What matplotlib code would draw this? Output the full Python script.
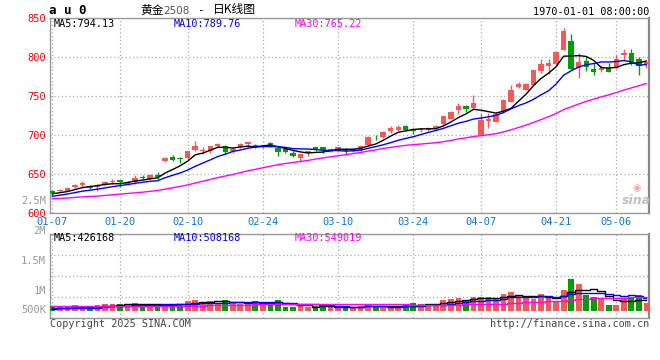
import numpy as np
import pandas as pd
import matplotlib
matplotlib.use("Agg")
import matplotlib.pyplot as plt
from matplotlib.ticker import LinearLocator

plt.rcParams['font.family'] = ['DejaVu Sans Mono', 'Noto Sans CJK SC']

# tick dates (trading-day index -> label)
tick_idx = [0, 9, 18, 28, 38, 48, 57, 67, 75]
tick_lab = ['01-07', '01-20', '02-10', '02-24', '03-10', '03-24', '04-07', '04-21', '05-06']

# daily OHLC
opens = [628.4, 627.6, 628.4, 633.5, 635.3, 634.4, 633.5, 636.1, 640.0, 641.7,
         636.1, 639.5, 646.4, 643.8, 648.9, 666.9, 672.0, 670.7, 670.3, 681.4,
         678.9, 678.9, 685.7, 686.5, 678.9, 684.8, 688.2, 687.4, 684.0, 689.9,
         683.1, 682.3, 676.3, 671.1, 676.3, 684.8, 684.0, 678.8, 680.5, 681.4,
         679.7, 680.5, 687.4, 697.6, 697.6, 704.5, 707.0, 711.3, 707.9, 707.0,
         706.2, 708.7, 713.9, 720.7, 731.8, 737.8, 735.2, 700.2, 718.1, 717.3,
         729.3, 742.9, 761.7, 758.3, 764.3, 782.3, 788.3, 790.8, 809.6, 820.7,
         786.5, 795.1, 784.8, 783.1, 786.5, 785.7, 802.8, 804.5, 796.8, 790.8]
highs = [630.1, 631.0, 633.1, 637.8, 641.2, 635.3, 637.8, 641.2, 644.2, 641.7,
         640.4, 648.1, 648.1, 649.8, 652.4, 671.2, 674.6, 672.0, 679.7, 691.7,
         684.8, 686.5, 690.0, 687.4, 684.0, 690.0, 690.8, 689.1, 686.6, 691.6,
         685.7, 684.0, 680.5, 675.4, 679.7, 684.8, 684.0, 683.1, 684.0, 683.1,
         683.1, 687.4, 699.3, 700.2, 704.5, 711.3, 712.2, 713.0, 709.6, 708.7,
         710.5, 712.2, 725.0, 731.0, 740.4, 738.7, 751.5, 728.4, 728.4, 729.3,
         746.4, 764.3, 767.7, 766.9, 783.1, 797.6, 797.6, 807.0, 837.8, 830.1,
         805.3, 801.9, 791.7, 790.0, 792.5, 802.8, 810.5, 810.5, 799.4, 793.4]
lows = [623.3, 626.7, 627.6, 631.8, 631.8, 631.0, 628.4, 634.4, 637.8, 633.5,
        635.3, 637.8, 643.8, 643.0, 643.8, 665.2, 666.9, 664.3, 669.4, 679.7,
        675.4, 676.3, 684.8, 675.4, 677.1, 683.1, 684.0, 683.1, 683.1, 684.8,
        673.7, 676.3, 672.0, 666.0, 673.7, 679.7, 677.1, 678.0, 679.7, 675.4,
        678.8, 679.7, 686.5, 694.2, 695.9, 702.8, 705.3, 704.5, 701.9, 703.6,
        704.5, 707.9, 711.3, 719.9, 726.7, 730.1, 733.5, 700.2, 709.6, 716.4,
        728.4, 742.1, 760.0, 757.5, 763.5, 779.7, 778.0, 789.9, 808.8, 783.1,
        773.7, 782.3, 776.3, 780.6, 780.6, 784.8, 795.9, 789.9, 776.3, 785.7]
closes = [625.9, 629.3, 632.3, 636.5, 639.1, 631.8, 636.1, 639.5, 641.2, 639.5,
          639.5, 645.1, 645.5, 648.9, 646.4, 670.3, 667.7, 669.4, 678.9, 686.5,
          681.4, 685.7, 689.1, 678.0, 682.3, 688.2, 690.8, 684.0, 685.7, 686.5,
          678.8, 678.0, 672.8, 675.4, 679.7, 682.3, 680.5, 682.3, 684.0, 679.7,
          682.3, 686.5, 696.8, 696.8, 703.6, 709.6, 710.5, 706.2, 705.3, 707.9,
          709.6, 711.3, 724.1, 730.1, 736.9, 732.7, 740.4, 719.0, 720.7, 727.5,
          745.5, 758.3, 765.2, 765.2, 783.1, 790.8, 792.5, 806.2, 832.7, 784.0,
          793.4, 787.4, 780.6, 786.5, 781.4, 797.6, 804.5, 790.8, 788.3, 793.4]
# closes before 01-07 (only feed the moving averages)
prior_close = [617, 614, 614, 616, 618, 620, 617, 615, 613, 616,
               619, 621, 618, 615, 614, 617, 620, 618, 616, 613,
               616, 617, 619, 620, 620, 622, 625, 624, 626]

# volume (thousand lots)
volumes = [176, 134, 134, 219, 110, 134, 219, 275, 275, 275,
           275, 317, 190, 275, 275, 190, 275, 275, 402, 444,
           360, 402, 303, 444, 331, 275, 303, 402, 331, 275,
           444, 134, 134, 219, 162, 190, 190, 134, 134, 134,
           162, 190, 233, 190, 162, 162, 134, 275, 317, 275,
           275, 275, 444, 486, 529, 444, 557, 557, 557, 529,
           698, 783, 613, 515, 486, 698, 613, 402, 867, 1332,
           1121, 656, 557, 472, 233, 233, 472, 543, 642, 331]
prior_vol = [240, 210, 230, 250, 220, 200, 230, 240, 210, 220,
             230, 250, 240, 220, 210, 230, 220, 210, 240, 220,
             190, 170, 160, 150, 130, 60, 50, 45, 49]

RED = '#f65858'
GREEN = '#009f00'
GRID = '#aaaaaa'

n = len(closes)
x = np.arange(n)
o = np.array(opens); c = np.array(closes)
h = np.array(highs); l = np.array(lows)
vol = np.array(volumes) * 1000.0
up = c >= o
cols = np.where(up, RED, GREEN)

allc = pd.Series(prior_close + closes)
ma = {k: allc.rolling(k, min_periods=1).mean().values[len(prior_close):] for k in (5, 10, 30)}
allv = pd.Series(prior_vol + volumes) * 1000.0
vma = {k: allv.rolling(k, min_periods=1).mean().values[len(prior_vol):] for k in (5, 10, 30)}

fig = plt.figure(figsize=(6.6, 3.6), dpi=100)
fig.patch.set_facecolor('white')

def px(xp, yp):
    return xp / 660, 1 - yp / 360

ax = fig.add_axes([50 / 660, 1 - 213 / 360, 599 / 660, 195 / 360])
axv = fig.add_axes([50 / 660, 1 - 318 / 360, 599 / 660, 84 / 360])

xlim = (-0.31, 79.35)

# price panel
ax.vlines(x, l, h, colors=cols, lw=1, zorder=3)
body = np.maximum(np.abs(c - o), 1.0)
ax.bar(x, body, bottom=np.minimum(o, c), width=0.72, color=cols, lw=0, zorder=4)
ax.plot(x, ma[5], color='black', lw=1, zorder=5)
ax.plot(x, ma[10], color='#0000ff', lw=1, zorder=5)
ax.plot(x, ma[30], color='#ff00ff', lw=1, zorder=5)
ax.set_xlim(*xlim)
ax.set_ylim(600, 850)
ax.set_yticks([600, 650, 700, 750, 800, 850])
ax.set_xticks(tick_idx)
ax.set_xticklabels(tick_lab)
ax.tick_params(axis='x', length=0, pad=3, labelsize=7.5, labelcolor='#0a78d2')
ax.tick_params(axis='y', length=0, pad=3, labelsize=7.5, labelcolor='#ee0000')
ax.grid(True, color=GRID, ls=(0, (1, 2)), lw=0.9)

# volume panel
axv.bar(x, vol, width=0.76, color=cols, lw=0, zorder=3)
axv.plot(x, vma[5], color='black', lw=1, drawstyle='steps-mid', zorder=4)
axv.plot(x, vma[10], color='#0000ff', lw=1, drawstyle='steps-mid', zorder=4)
axv.plot(x, vma[30], color='#ff00ff', lw=1, drawstyle='steps-mid', zorder=4)
axv.set_xlim(*xlim)
axv.set_ylim(-317e3, 3236e3)
axv.yaxis.set_major_locator(LinearLocator(5))
axv.set_xticks(tick_idx)
axv.set_xticklabels([])
axv.set_yticklabels([])
axv.tick_params(length=0)
axv.grid(True, color=GRID, ls=(0, (1, 2)), lw=0.9)

for a in (ax, axv):
    a.set_axisbelow(True)
    for s in ('left', 'bottom', 'top'):
        a.spines[s].set_color('#999999')
        a.spines[s].set_linewidth(1)
    a.spines['right'].set_color('#888888')
    a.spines['right'].set_linewidth(1.6)

# header
fig.text(*px(49, 10), 'a u 0', fontsize=9, fontweight='bold', va='center', ha='left')
fig.text(*px(140, 10), '黄金', family=['Noto Sans CJK SC'], fontsize=8.5, va='center', ha='left')
fig.text(*px(163, 10.5), '2508', family=['DejaVu Sans'], color='#555555', fontsize=7.5, va='center', ha='left')
fig.text(*px(197, 10), '-', fontsize=8, va='center', ha='left')
fig.text(*px(213, 10), '日K线图', family=['Noto Sans CJK SC'], fontsize=8.5, va='center', ha='left')
fig.text(*px(649, 12), '1970-01-01 08:00:00', fontsize=7.3, va='center', ha='right')

# MA legends
fig.text(*px(54, 24), 'MA5:794.13', fontsize=7.3, color='black', va='center')
fig.text(*px(174, 24), 'MA10:789.76', fontsize=7.3, color='#0000ff', va='center')
fig.text(*px(295, 24), 'MA30:765.22', fontsize=7.3, color='#ff00ff', va='center')
fig.text(*px(54, 238), 'MA5:426168', fontsize=7.3, color='black', va='center')
fig.text(*px(174, 238), 'MA10:508168', fontsize=7.3, color='#0000ff', va='center')
fig.text(*px(295, 238), 'MA30:549019', fontsize=7.3, color='#ff00ff', va='center')

# volume scale labels
for lab, yp in [('2.5M', 201), ('2M', 231), ('1.5M', 261), ('1M', 291), ('500K', 310)]:
    fig.text(*px(46, yp), lab, fontsize=7.5, color='#999999', va='center', ha='right')

# footer
fig.text(*px(50, 324), 'Copyright 2025 SINA.COM', fontsize=7.3, color='#444444', va='center')
fig.text(*px(649, 324), 'http://finance.sina.com.cn', fontsize=7.3, color='#444444', va='center', ha='right')

# sina watermark
fig.text(*px(636, 200), 'sina', family=['DejaVu Sans'], fontsize=9, fontstyle='italic',
         fontweight='bold', color='#c0c0c0', va='center', ha='center')
fig.text(*px(637, 188), '◉', family=['DejaVu Sans'], fontsize=7, color='#f2a8a8', va='center', ha='center')

fig.savefig('out.png', dpi=100)
